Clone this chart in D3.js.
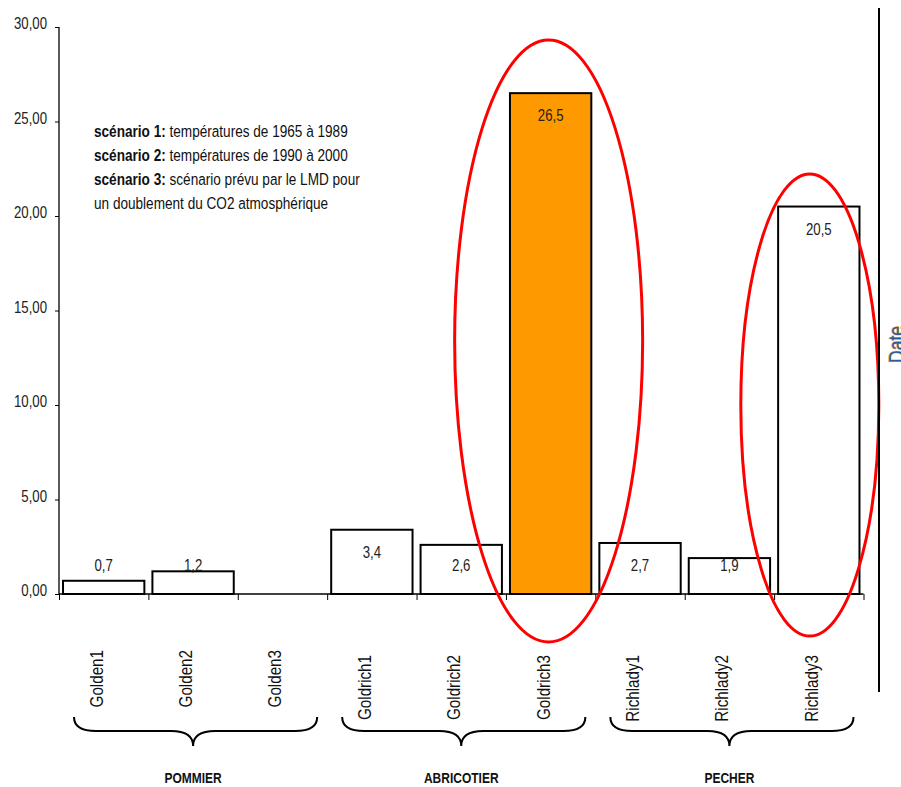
<!DOCTYPE html>
<html>
<head>
<meta charset="utf-8">
<script src="https://cdn.jsdelivr.net/npm/d3@7"></script>
<style>
  body { margin: 0; background: #fff; }
  svg { display: block; font-family: "Liberation Sans Narrow", "Arial Narrow", "Liberation Sans", sans-serif; }
</style>
</head>
<body>
<svg id="chart" width="901" height="787"></svg>
<script>
// data
var varieties = ["Golden1", "Golden2", "Golden3", "Goldrich1", "Goldrich2", "Goldrich3", "Richlady1", "Richlady2", "Richlady3"];
var values = [0.7, 1.2, null, 3.4, 2.6, 26.5, 2.7, 1.9, 20.5];
var groups = ["POMMIER", "ABRICOTIER", "PECHER"];
var highlighted = ["Goldrich3"];
var circled = ["Goldrich3", "Richlady3"];
var yTicks = [0, 5, 10, 15, 20, 25, 30];
var legendBold = ["scénario 1:", "scénario 2:", "scénario 3:", ""];
var legendText = [" températures de 1965 à 1989", " températures de 1990 à 2000", " scénario prévu par le LMD pour", "un doublement du CO2 atmosphérique"];

// the narrow font is missing here, so squeeze the normal one
var SQ = 0.8;

var svg = d3.select("#chart"),
    margin = {top: 27, left: 59},
    width = 804.5,
    height = 567,
    g = svg.append("g").attr("transform", "translate(" + margin.left + "," + margin.top + ")");

var x = d3.scaleBand()
    .domain(varieties)
    .range([0, width])
    .paddingInner(0.09)
    .paddingOuter(0.045);

// band boundaries for the ticks on the x axis
var xb = d3.scaleLinear().domain([0, varieties.length]).range([0, width]);

var y = d3.scaleLinear().domain([0, 30]).range([height, 0]);

var fmt = function (v, dec) {
    return d3.format("." + dec + "f")(v).replace(".", ",");
};

var place = function (px, py, rot) {
    return "translate(" + px + "," + py + ")" + (rot ? " rotate(" + rot + ")" : "") + " scale(" + SQ + ",1)";
};

// y axis
var yAxis = g.append("g")
    .call(d3.axisLeft(y).tickValues(yTicks).tickSize(4).tickFormat(function (d) { return fmt(d, 2); }));
yAxis.select(".domain").attr("stroke-width", 1.3).attr("d", "M0," + height + "V0");
yAxis.selectAll("text")
    .style("font-size", "16.5px")
    .attr("fill", "#222")
    .attr("x", 0)
    .attr("dy", "0.28em")
    .attr("transform", "translate(-12,-3) scale(" + SQ + ",1)");

// bars
var shown = varieties.filter(function (d, i) { return values[i] != null; });
var val = function (d) { return values[varieties.indexOf(d)]; };

g.selectAll("rect.bar")
    .data(shown)
    .enter().append("rect")
    .attr("class", "bar")
    .attr("x", function (d) { return x(d); })
    .attr("width", x.bandwidth())
    .attr("y", function (d) { return y(val(d)); })
    .attr("height", function (d) { return height - y(val(d)); })
    .attr("fill", function (d) { return highlighted.indexOf(d) != -1 ? "#ff9900" : "#fff"; })
    .attr("stroke", "#000")
    .attr("stroke-width", 2);

// value labels
g.selectAll("text.val")
    .data(shown)
    .enter().append("text")
    .attr("class", "val")
    .attr("transform", function (d) {
        return place(x(d) + x.bandwidth() / 2, Math.min(y(val(d)) + 28, height - 23));
    })
    .attr("text-anchor", "middle")
    .style("font-size", "16.5px")
    .attr("fill", "#222")
    .text(function (d) { return fmt(val(d), 1); });

// x axis
var xAxis = g.append("g")
    .attr("transform", "translate(0," + height + ")")
    .call(d3.axisBottom(xb).tickValues(d3.range(varieties.length + 1)).tickSize(6).tickFormat(""));
xAxis.select(".domain").attr("stroke-width", 1.3).attr("d", "M0,0H" + width);

// category labels, rotated
var labelTop = [650, 655, 655];
g.selectAll("text.cat")
    .data(varieties)
    .enter().append("text")
    .attr("class", "cat")
    .attr("transform", function (d, i) {
        return place(x(d) + x.bandwidth() / 2 - 1, labelTop[Math.floor(i / 3)] - margin.top, -90);
    })
    .attr("text-anchor", "end")
    .style("font-size", "19px")
    .attr("fill", "#111")
    .text(function (d) { return d; });

// braces and group names
groups.forEach(function (name, k) {
    var x0 = xb(k * 3) + 15, x1 = xb(k * 3 + 3) - 10, xm = (xb(k * 3) + xb(k * 3 + 3)) / 2;
    var top = 717 - margin.top, mid = 731 - margin.top, tip = 746 - margin.top;
    var p = "M" + x0 + "," + top +
        "Q" + x0 + "," + mid + " " + (x0 + 22) + "," + mid +
        "L" + (xm - 22) + "," + mid +
        "Q" + xm + "," + mid + " " + xm + "," + tip +
        "Q" + xm + "," + mid + " " + (xm + 22) + "," + mid +
        "L" + (x1 - 22) + "," + mid +
        "Q" + x1 + "," + mid + " " + x1 + "," + top;
    g.append("path").attr("d", p).attr("fill", "none").attr("stroke", "#000").attr("stroke-width", 2);
    g.append("text")
        .attr("transform", place(xm, 783 - margin.top))
        .attr("text-anchor", "middle")
        .style("font-size", "15px")
        .style("font-weight", "bold")
        .attr("fill", "#111")
        .text(name);
});

// legend text
legendBold.forEach(function (b, i) {
    var t = g.append("text")
        .attr("transform", place(94 - margin.left, 137 - margin.top + i * 24))
        .style("font-size", "17px")
        .attr("fill", "#111");
    if (b) t.append("tspan").style("font-weight", "bold").text(b);
    t.append("tspan").text(legendText[i]);
});

// red ellipses around the scenario 3 bars
var ell = [{rx: 94, cy: 341, ry: 301, dx: -2}, {rx: 69, cy: 405, ry: 231, dx: -9}];
circled.forEach(function (d, i) {
    g.append("ellipse")
        .attr("cx", x(d) + x.bandwidth() / 2 + ell[i].dx)
        .attr("cy", ell[i].cy - margin.top)
        .attr("rx", ell[i].rx)
        .attr("ry", ell[i].ry)
        .attr("fill", "none")
        .attr("stroke", "#ff0000")
        .attr("stroke-width", 3);
});

// right border line and the clipped "Date" title
svg.append("line")
    .attr("x1", 879).attr("x2", 879)
    .attr("y1", 8).attr("y2", 692)
    .attr("stroke", "#000").attr("stroke-width", 2);

svg.append("text")
    .attr("transform", place(904, 363, -90))
    .style("font-size", "22px")
    .attr("fill", "#2a5d9a")
    .attr("stroke", "#f2b060")
    .attr("stroke-width", 1.2)
    .style("paint-order", "stroke")
    .text("Date");
</script>
</body>
</html>
